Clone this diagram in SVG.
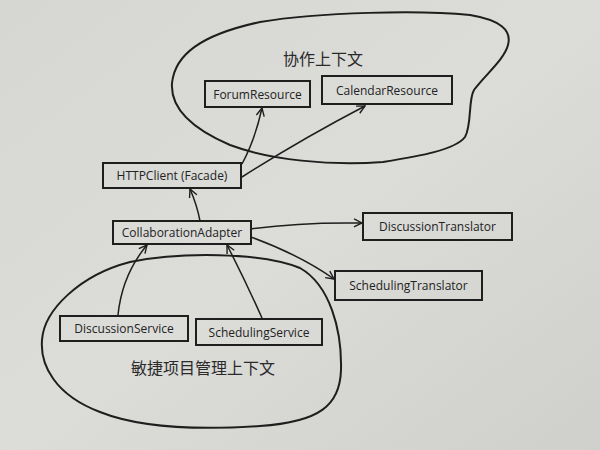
<svg xmlns="http://www.w3.org/2000/svg" width="600" height="450" viewBox="0 0 600 450">
<defs>
<marker id="arr" viewBox="0 0 10 10" refX="9" refY="5" markerWidth="10" markerHeight="10" markerUnits="userSpaceOnUse" orient="auto">
<path d="M1,1 L9,5 L1,9" fill="none" stroke="#1e1e1e" stroke-width="1.4"/>
</marker>
<linearGradient id="bg" x1="0" y1="0" x2="1" y2="1">
<stop offset="0" stop-color="#d6d6d3"/>
<stop offset="0.5" stop-color="#dcdcd9"/>
<stop offset="1" stop-color="#cfcfcc"/>
</linearGradient>
</defs>
<style>
.box{fill:none;stroke:#1e1e1e;stroke-width:2}
.lbl{font-family:"Open Sans","Noto Sans","Liberation Sans",sans-serif;font-size:12px;fill:#222;text-anchor:middle;dominant-baseline:central}
.ctx{font-family:"Noto Sans CJK SC","Noto Sans",sans-serif;font-size:16px;fill:#2a2a2a;text-anchor:middle;dominant-baseline:central}
.blob{fill:none;stroke:#1e1e1e;stroke-width:2}
.conn{fill:none;stroke:#1e1e1e;stroke-width:1.5;marker-end:url(#arr)}
</style>
<rect width="600" height="450" fill="url(#bg)"/>
<g id="ctx-collab">
<path class="blob" d="M172,83 C175,55 200,35 260,22 C320,12 420,10 470,15 C500,20 512,30 508,45 C504,60 485,75 474,90 C468,100 472,125 465,137 C455,150 420,156 383,162 C330,166 270,160 230,145 C195,130 170,110 172,83 Z"/>
<text class="ctx" x="323" y="58">协作上下文</text>
</g>
<g id="ctx-agile">
<path class="blob" d="M130,262 C180,252 260,252 300,268 C330,285 342,330 341,370 C340,405 320,422 260,426 C200,430 140,428 100,412 C55,395 40,365 42,340 C44,310 80,275 130,262 Z"/>
<text class="ctx" x="203" y="367">敏捷项目管理上下文</text>
</g>
<g id="forum-resource">
<rect class="box" x="205" y="81" width="105" height="26"/>
<text class="lbl" x="257.5" y="94">ForumResource</text>
</g>
<g id="calendar-resource">
<rect class="box" x="322" y="76" width="130" height="28"/>
<text class="lbl" x="387" y="90">CalendarResource</text>
</g>
<g id="http-client">
<rect class="box" x="103" y="163" width="138" height="25"/>
<text class="lbl" x="172" y="175.5">HTTPClient (Facade)</text>
</g>
<g id="collaboration-adapter">
<rect class="box" x="113" y="221" width="138" height="23"/>
<text class="lbl" x="182" y="232.5">CollaborationAdapter</text>
</g>
<g id="discussion-translator">
<rect class="box" x="363" y="213" width="149" height="27"/>
<text class="lbl" x="437.5" y="226.5">DiscussionTranslator</text>
</g>
<g id="scheduling-translator">
<rect class="box" x="335" y="271" width="147" height="29"/>
<text class="lbl" x="408.5" y="285.5">SchedulingTranslator</text>
</g>
<g id="discussion-service">
<rect class="box" x="60" y="316" width="128" height="25"/>
<text class="lbl" x="124" y="328.5">DiscussionService</text>
</g>
<g id="scheduling-service">
<rect class="box" x="196" y="319" width="126" height="26"/>
<text class="lbl" x="259" y="332">SchedulingService</text>
</g>
<g id="connectors">
<path class="conn" d="M242,164 Q255,140 262,108"/>
<path class="conn" d="M242,177 Q300,140 365,106"/>
<path class="conn" d="M200,221 Q197,205 190,189"/>
<path class="conn" d="M251,229 Q300,222 362,223"/>
<path class="conn" d="M251,237 Q300,255 334,279"/>
<path class="conn" d="M118,315 Q122,275 147,245"/>
<path class="conn" d="M262,318 Q245,280 227,245"/>
</g>
</svg>
